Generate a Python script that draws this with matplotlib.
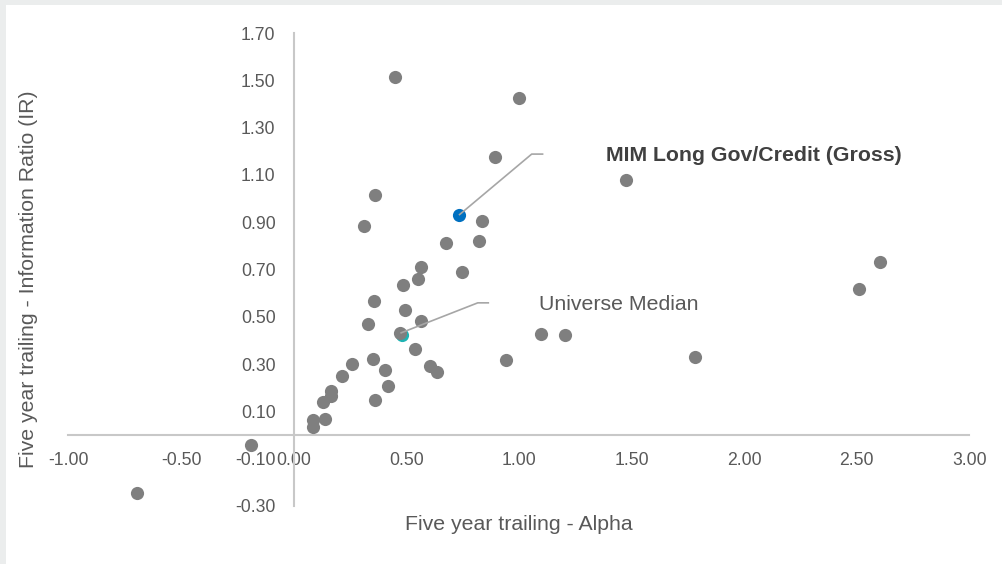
import matplotlib
matplotlib.use("Agg")
import matplotlib.pyplot as plt
from matplotlib.patches import Rectangle
import numpy as np

plt.rcParams['font.family'] = ['Liberation Sans', 'DejaVu Sans']

# ---- data ----
universe_alpha = [0.449, 1.002, 0.895, 1.475, 0.362, 0.314, 0.836, 0.676, 0.824,
                  0.566, 0.748, 0.554, 0.486, 0.358, 0.496, 0.329, 0.567, 0.474,
                  0.538, 0.259, 0.353, 0.407, 0.213, 0.605, 0.635, 0.417, 0.166,
                  0.168, 0.361, 0.132, 0.084, 0.139, 0.088, 0.943, 1.099, 1.207,
                  1.780, 2.512, 2.602, -0.189, -0.697]
universe_ir = [1.512, 1.425, 1.177, 1.080, 1.017, 0.885, 0.903, 0.812, 0.820,
               0.711, 0.688, 0.660, 0.634, 0.567, 0.530, 0.469, 0.481, 0.431,
               0.363, 0.300, 0.321, 0.275, 0.248, 0.294, 0.266, 0.209, 0.185,
               0.165, 0.148, 0.141, 0.062, 0.066, 0.036, 0.317, 0.429, 0.425,
               0.329, 0.616, 0.731, -0.041, -0.244]
mim_alpha = [0.734]
mim_ir = [0.930]
median_alpha = [0.480]
median_ir = [0.425]
mim_label = "MIM Long Gov/Credit (Gross)"
median_label = "Universe Median"
x_ticks = [-1.0, -0.5, 0.0, 0.5, 1.0, 1.5, 2.0, 2.5, 3.0]
y_ticks = [-0.3, -0.1, 0.1, 0.3, 0.5, 0.7, 0.9, 1.1, 1.3, 1.5, 1.7]
x_title = "Five year trailing - Alpha"
y_title = "Five year trailing - Information Ratio (IR)"

W, H = 1002, 564
fig = plt.figure(figsize=(W / 100, H / 100), dpi=100)
fig.patch.set_facecolor('white')
# light grey frame strips (top and left)
fig.patches.append(Rectangle((0, 1 - 5 / H), 1, 5 / H, transform=fig.transFigure,
                             facecolor='#ebeded', edgecolor='none', zorder=0))
fig.patches.append(Rectangle((0, 0), 6 / W, 1, transform=fig.transFigure,
                             facecolor='#ebeded', edgecolor='none', zorder=0))

left, right = 68.4 / W, 969.3 / W
bottom, top = 1 - 506 / H, 1 - 33 / H
ax = fig.add_axes([left, bottom, right - left, top - bottom])
ax.set_facecolor('none')
ax.set_xlim(-1.0, 3.0)
ax.set_ylim(-0.3, 1.7)

for s in ['top', 'right']:
    ax.spines[s].set_visible(False)
ax.spines['left'].set_position(('data', 0))
ax.spines['bottom'].set_position(('data', 0))
for s in ['left', 'bottom']:
    ax.spines[s].set_color('#c8c8c8')
    ax.spines[s].set_linewidth(1.5)

ax.set_xticks(x_ticks)
ax.set_yticks(y_ticks)
ax.set_xticklabels([f"{v:.2f}" for v in x_ticks])
ax.set_yticklabels([f"{v:.2f}" for v in y_ticks])
ax.tick_params(axis='both', length=0, labelsize=12.7, labelcolor='#595959')
ax.tick_params(axis='x', pad=12.5)
ax.tick_params(axis='y', pad=13)

msize = 90
ax.scatter(median_alpha, median_ir, s=msize, color='#1fb3b3', zorder=3, linewidths=0)
ax.scatter(universe_alpha, universe_ir, s=msize, color='#7f7f7f', zorder=4, linewidths=0)
ax.scatter(mim_alpha, mim_ir, s=msize, color='#0070c0', zorder=5, linewidths=0)

# leader lines
ax.plot([mim_alpha[0], 1.057, 1.109], [mim_ir[0], 1.188, 1.188],
        color='#a6a6a6', lw=1.2, zorder=6, solid_capstyle='butt')
ax.plot([0.474, 0.8175, 0.868], [0.431, 0.559, 0.559],
        color='#a6a6a6', lw=1.2, zorder=6, solid_capstyle='butt')

ax.text(1.387, 1.184, mim_label, fontsize=15.3, fontweight='bold', color='#404040',
        ha='left', va='center', zorder=7)
ax.text(1.090, 0.554, median_label, fontsize=15.3, color='#595959',
        ha='left', va='center', zorder=7)

fig.text(518.9 / W, 1 - 524 / H, x_title, fontsize=15.3, color='#595959',
         ha='center', va='center')
fig.text(29 / W, 1 - 279 / H, y_title, fontsize=15.3, color='#595959',
         ha='center', va='center', rotation=90)

fig.savefig('out.png', dpi=100, facecolor=fig.get_facecolor())
